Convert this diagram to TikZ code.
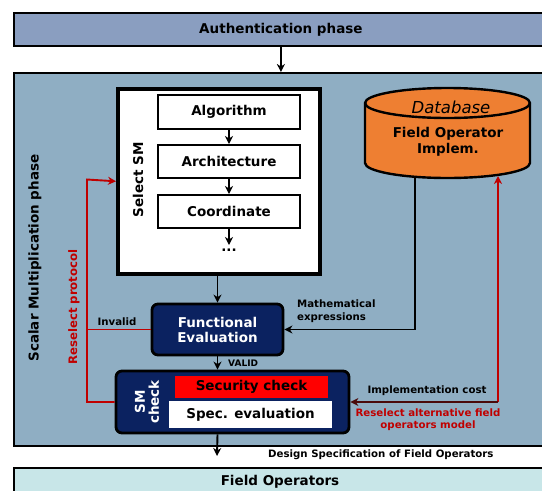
\documentclass[tikz,border=0pt]{standalone}
\usepackage{fontspec}
\setmainfont{DejaVu Sans}
\usetikzlibrary{arrows.meta}
\definecolor{authc}{HTML}{8A9EC0}
\definecolor{scalc}{HTML}{8FAEC3}
\definecolor{fieldc}{HTML}{C8E6E8}
\definecolor{navyc}{HTML}{0B2260}
\definecolor{orangec}{HTML}{EE7F32}
\definecolor{redl}{HTML}{C00000}
\definecolor{darkredl}{HTML}{4A0A0A}
\definecolor{secred}{HTML}{FF0000}
\newcommand\fmain{\bfseries\fontsize{13.5}{16}\selectfont}
\newcommand\flab{\bfseries\fontsize{10.2}{12.5}\selectfont}
\begin{document}
\begin{tikzpicture}[x=1pt,y=-1pt,
  arr/.style={line width=1.9pt,-{Stealth[length=8pt,width=8pt,inset=2.5pt]}},
  redarr/.style={line width=1.9pt,draw=redl,-{Stealth[length=8pt,width=8pt,inset=2.5pt]}},
  redline/.style={line width=1.9pt,draw=redl},
  phasebox/.style={draw=black,line width=1.8pt,anchor=north west,inner sep=0pt},
  smallbox/.style={draw=black,line width=2pt,fill=white,inner sep=0pt,font=\fmain,minimum width=142pt},
  navybox/.style={draw=black,line width=2.8pt,fill=navyc,rounded corners=6pt,inner sep=0pt},
  lab/.style={font=\flab,inner sep=0pt}]
\useasboundingbox (0,0) rectangle (542,491);
\clip (0,0) rectangle (542,491);
\fill[white] (0,0) rectangle (542,491);

% phases
\node[phasebox,fill=authc,minimum width=534pt,minimum height=33pt,font=\fmain] (auth) at (13,12) {Authentication phase};
\node[phasebox,fill=scalc,minimum width=534pt,minimum height=373pt] (scal) at (13,72) {};
\node[phasebox,fill=fieldc,minimum width=534pt,minimum height=45pt] (field) at (13,467) {};
\node[font=\fmain,inner sep=0pt] (fieldlbl) at (280,482) {Field Operators};
\draw[arr] (auth.south) -- (scal.north);

\node[rotate=90,font=\fmain,inner sep=0pt] (scallbl) at (35,258) {Scalar Multiplication phase};

% Select SM
\node[draw=black,line width=3.6pt,fill=white,anchor=north west,minimum width=202pt,minimum height=185pt,inner sep=0pt] (sel) at (116,87) {};
\node[rotate=90,font=\fmain,inner sep=0pt] (sellbl) at (138,180) {Select SM};
\node[smallbox,minimum height=34pt] (alg) at (229,112) {Algorithm};
\node[smallbox,minimum height=33pt] (arch) at (229,161.5) {Architecture};
\node[smallbox,minimum height=33pt] (coord) at (229,211.5) {Coordinate};
\node[font=\fmain,inner sep=1pt] (dots) at (229,250) {...};
\draw[arr] (alg) -- (arch);
\draw[arr] (arch) -- (coord);
\draw[arr] (coord.south) -- (229,245);

% Functional evaluation
\node[navybox,minimum width=131pt,minimum height=51pt,text=white,font=\fmain,align=center] (func) at (217.5,329.5) {Functional\\[-1pt]Evaluation};
\draw[arr] (sel.south -| func.north) -- (func.north);

% SM check
\node[navybox,minimum width=233pt,minimum height=62pt] (smc) at (232.5,402) {};
\node[rotate=90,text=white,font=\fmain,align=center,inner sep=0pt] (smclbl) at (147,402) {SM\\[-2pt]check};
\node[fill=secred,minimum width=153pt,minimum height=22pt,inner sep=0pt,font=\fmain] (sec) at (251.5,387) {Security check};
\node[fill=white,minimum width=163pt,minimum height=27pt,inner sep=0pt,font=\fmain] (spec) at (250.5,414.5) {Spec. evaluation};
\draw[arr] (func.south) -- (func.south |- smc.north);
\node[lab,font=\bfseries\fontsize{9}{11}\selectfont,anchor=west] (valid) at (228,363) {VALID};

% output
\coordinate (dsend) at (217,456);
\draw[arr] (func.south |- smc.south) -- (dsend);
\node[lab,anchor=west] (dslbl) at (268,455) {Design Specification of Field Operators};

% Database cylinder
\coordinate (dbcenter) at (447.5,133);
\filldraw[fill=orangec,draw=black,line width=2.4pt]
  (365,103) -- (365,163) arc[start angle=180,end angle=0,x radius=82.5,y radius=15]
  -- (530,103) arc[start angle=0,end angle=-180,x radius=82.5,y radius=15] -- cycle;
\draw[line width=2.4pt] (365,103) arc[start angle=180,end angle=0,x radius=82.5,y radius=15];
\node[font=\itshape\fontsize{16.5}{19}\selectfont,inner sep=0pt] (dblbl) at (451,107) {Database};
\node[font=\fmain,align=center,inner sep=0pt] (dbtext) at (448,141.5) {Field Operator\\Implem.};
\coordinate (dbb1) at (415,177.5);
\coordinate (dbb2) at (498,177);

% math expressions
\draw[arr] (dbb1) |- (func.east);
\node[lab,anchor=west,align=left] (mathlbl) at (297,311) {Mathematical\\expressions};

% implementation cost / reselect
\coordinate (rc) at (dbb2 |- smc.east);
\draw[redarr] (rc) -- ([yshift=1pt]dbb2);
\draw[arr,draw=darkredl] (rc) -- (smc.east);
\node[lab] (implbl) at (427,391) {Implementation cost};
\node[lab,text=redl,align=center] (realt) at (428,419.5) {Reselect alternative field\\operators model};

% reselect protocol
\coordinate (rtop) at (87,179.5);
\coordinate (rbot) at (87,402);
\draw[redarr] (smc.west) -- (rbot) -- (rtop) -- (sel.west);
\draw[redline] (func.west) -- (func.west -| rtop);
\node[lab] (invlbl) at (117,322) {Invalid};
\node[rotate=90,text=redl,font=\bfseries\fontsize{11.7}{14}\selectfont,inner sep=0pt] (rplbl) at (74,307) {Reselect protocol};
\end{tikzpicture}
\end{document}
